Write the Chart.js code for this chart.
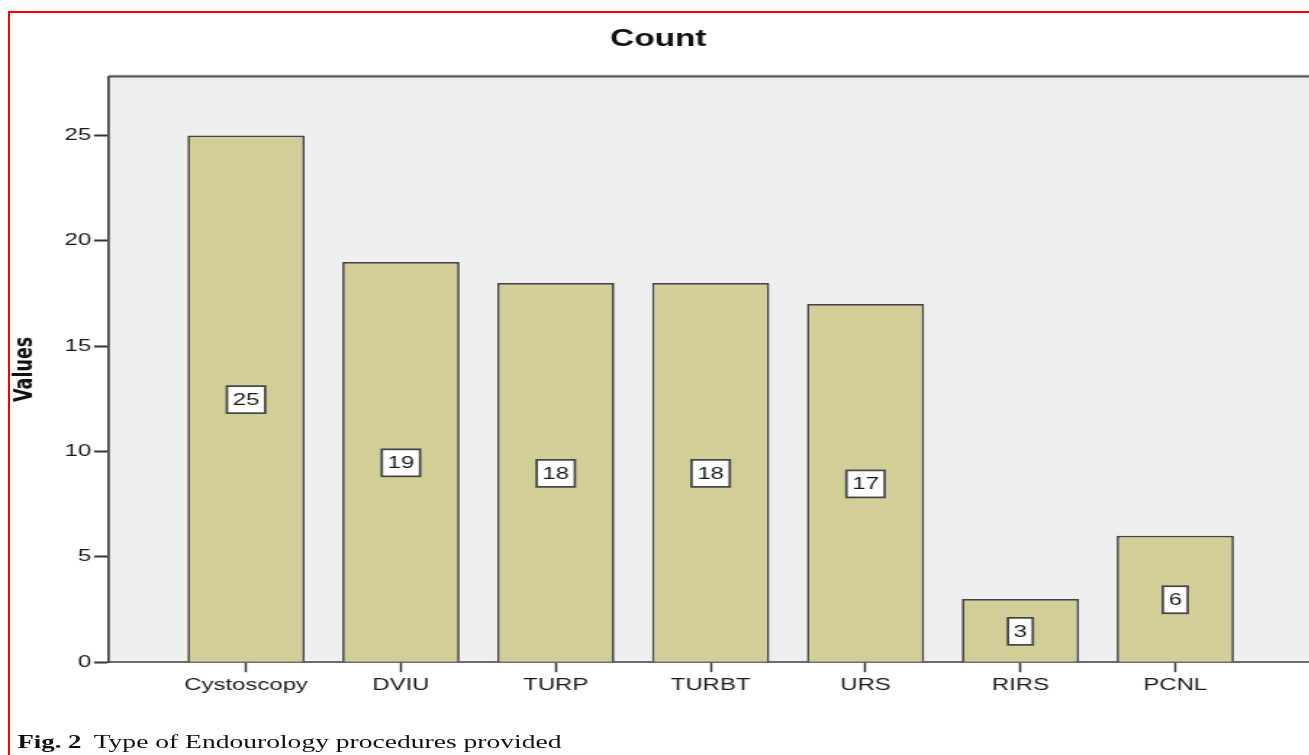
<!DOCTYPE html>
<html>
<head>
<meta charset="utf-8">
<title>Count</title>
<script src="https://cdn.jsdelivr.net/npm/chart.js@4.4.1/dist/chart.umd.min.js"></script>
<style>
  html, body { margin: 0; padding: 0; background: #fff; overflow: hidden; width: 1309px; height: 755px; }
  .frame { position: absolute; left: 8px; top: 11px; width: 1400px; height: 800px; border: 2px solid #ff0000; box-sizing: border-box; }
  /* the source figure is stretched sideways, so the whole chart is drawn narrow and widened */
  .stretch { position: absolute; left: 0; top: 0; width: 906px; height: 755px; transform: scaleX(1.45); transform-origin: 0 0; }
  #chart { position: absolute; left: 0; top: 0; }
  .caption { position: absolute; left: 12px; top: 731px; font: 19px "Liberation Serif", "Times New Roman", serif; color: #111; white-space: nowrap; line-height: 22px; }
  .caption b { font-size: 18.5px; margin-right: 4px; }
</style>
</head>
<body>
<div class="frame"></div>
<div class="stretch">
  <canvas id="chart" width="906" height="700"></canvas>
  <div class="caption"><b>Fig. 2</b> Type of Endourology procedures provided</div>
</div>
<script>
const CATEGORIES = ['Cystoscopy', 'DVIU', 'TURP', 'TURBT', 'URS', 'RIRS', 'PCNL'];
const COUNTS = [25, 19, 18, 18, 17, 3, 6];
const Y_TICKS = [0, 5, 10, 15, 20, 25];

Chart.defaults.font.family = '"Liberation Sans", Arial, sans-serif';

// grey plot area + dark top edge
const plotBackground = {
  id: 'plotBackground',
  beforeDraw(chart) {
    const { ctx, chartArea: a } = chart;
    ctx.save();
    ctx.fillStyle = '#efefef';
    ctx.fillRect(a.left, a.top, a.right - a.left, a.bottom - a.top);
    ctx.restore();
  },
  afterDraw(chart) {
    const { ctx, chartArea: a } = chart;
    ctx.save();
    ctx.strokeStyle = '#bdbdbd';
    ctx.lineWidth = 1;
    ctx.beginPath();
    ctx.moveTo(a.left, a.top - 1.5);
    ctx.lineTo(a.right, a.top - 1.5);
    ctx.stroke();
    ctx.strokeStyle = '#505050';
    ctx.lineWidth = 2;
    ctx.beginPath();
    ctx.moveTo(a.left, a.top);
    ctx.lineTo(a.right, a.top);
    ctx.stroke();
    ctx.restore();
  }
};

// white boxed value in the middle of each bar
const valueBoxes = {
  id: 'valueBoxes',
  afterDatasetsDraw(chart) {
    const { ctx } = chart;
    const meta = chart.getDatasetMeta(0);
    ctx.save();
    ctx.font = '16.5px "Liberation Sans", Arial, sans-serif';
    ctx.textAlign = 'center';
    ctx.textBaseline = 'middle';
    meta.data.forEach((bar, i) => {
      const txt = String(COUNTS[i]);
      const w = ctx.measureText(txt).width + 8;
      const h = 27;
      const cx = bar.x;
      const cy = (bar.y + bar.base) / 2 + 1;
      ctx.fillStyle = '#fff';
      ctx.fillRect(cx - w / 2, cy - h / 2, w, h);
      ctx.strokeStyle = '#444';
      ctx.lineWidth = 1.7;
      ctx.strokeRect(cx - w / 2, cy - h / 2, w, h);
      ctx.fillStyle = '#1a1a1a';
      ctx.fillText(txt, cx, cy + 1);
    });
    ctx.restore();
  }
};

new Chart(document.getElementById('chart'), {
  type: 'bar',
  data: {
    datasets: [{
      data: CATEGORIES.map((c, i) => ({ x: i, y: COUNTS[i] })),
      backgroundColor: '#d3ce98',
      borderColor: '#434343',
      borderWidth: 1.7,
      categoryPercentage: 1,
      barPercentage: 0.757,
    }],
  },
  options: {
    responsive: false,
    animation: false,
    layout: { padding: { top: 22, left: 2, right: 0, bottom: 2 } },
    plugins: {
      legend: { display: false },
      tooltip: { enabled: false },
      title: {
        display: true,
        text: 'Count',
        color: '#111',
        font: { size: 23, weight: 'bold' },
        padding: { top: 4, bottom: 23 },
      },
    },
    scales: {
      x: {
        type: 'linear',
        min: -0.885,
        max: 6.894,
        offset: false,
        afterBuildTicks: s => { s.ticks = CATEGORIES.map((c, i) => ({ value: i })); },
        ticks: { callback: v => CATEGORIES[v], color: '#1a1a1a', font: { size: 16.5 }, padding: 3, maxRotation: 0, autoSkip: false },
        grid: { offset: false, drawOnChartArea: false, tickLength: 10, tickWidth: 1.5, tickColor: '#333' },
        border: { color: '#6a6a6a', width: 2 },
      },
      y: {
        min: 0,
        max: 27.8,
        afterBuildTicks: s => { s.ticks = Y_TICKS.map(v => ({ value: v })); },
        ticks: { color: '#1a1a1a', font: { size: 16.5 }, padding: 2 },
        grid: { drawOnChartArea: false, tickLength: 10.3, tickWidth: 2, tickColor: '#333' },
        border: { color: '#434343', width: 1.7 },
        title: {
          display: true,
          text: 'Values',
          color: '#111',
          font: { family: '"DejaVu Sans", sans-serif', size: 17.5, weight: 'bold' },
          padding: { top: 4.5, bottom: 15 },
        },
      },
    },
  },
  plugins: [plotBackground, valueBoxes],
});
</script>
</body>
</html>
